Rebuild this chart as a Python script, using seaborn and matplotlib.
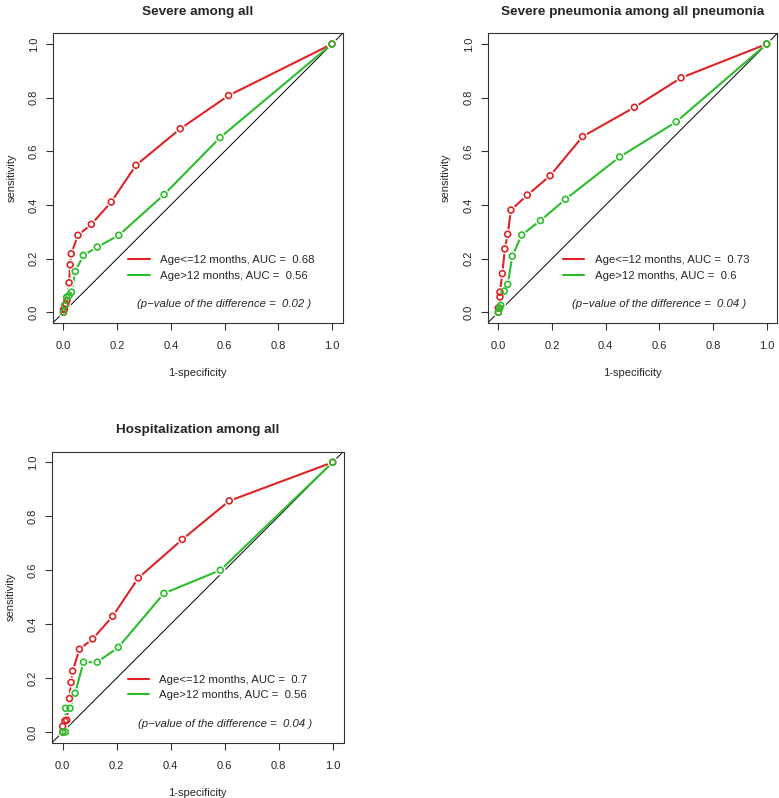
import numpy as np
import matplotlib
matplotlib.use("Agg")
import matplotlib.pyplot as plt
from matplotlib.lines import Line2D
import seaborn as sns

# ROC points (1-specificity, sensitivity)
sev_young_fpr = [0.0, 0.0, 0.004, 0.009, 0.013, 0.021, 0.025, 0.029, 0.054, 0.104, 0.178, 0.270, 0.435, 0.615, 1.0]
sev_young_tpr = [0.0, 0.010, 0.012, 0.030, 0.044, 0.110, 0.177, 0.218, 0.287, 0.328, 0.411, 0.548, 0.684, 0.808, 1.0]
sev_old_fpr = [0.0, 0.005, 0.012, 0.021, 0.030, 0.044, 0.074, 0.126, 0.206, 0.375, 0.583, 1.0]
sev_old_tpr = [0.0, 0.026, 0.056, 0.063, 0.075, 0.152, 0.212, 0.243, 0.287, 0.439, 0.651, 1.0]

pneu_young_fpr = [0.0, 0.0, 0.006, 0.006, 0.015, 0.024, 0.035, 0.047, 0.108, 0.193, 0.314, 0.507, 0.681, 1.0]
pneu_young_tpr = [0.0, 0.016, 0.057, 0.075, 0.144, 0.236, 0.291, 0.381, 0.437, 0.509, 0.655, 0.764, 0.874, 1.0]
pneu_old_fpr = [0.0, 0.005, 0.009, 0.022, 0.035, 0.052, 0.087, 0.157, 0.250, 0.452, 0.663, 1.0]
pneu_old_tpr = [0.0, 0.015, 0.026, 0.079, 0.104, 0.209, 0.288, 0.342, 0.421, 0.579, 0.710, 1.0]

hosp_young_fpr = [0.0, 0.0, 0.008, 0.015, 0.025, 0.031, 0.037, 0.062, 0.111, 0.185, 0.280, 0.443, 0.617, 1.0]
hosp_young_tpr = [0.0, 0.021, 0.041, 0.044, 0.124, 0.184, 0.226, 0.307, 0.345, 0.429, 0.571, 0.714, 0.857, 1.0]
hosp_old_fpr = [0.0, 0.010, 0.011, 0.027, 0.046, 0.077, 0.128, 0.206, 0.375, 0.584, 1.0]
hosp_old_tpr = [0.0, 0.0, 0.088, 0.088, 0.144, 0.259, 0.259, 0.314, 0.514, 0.600, 1.0]

titles = ["Severe among all", "Severe pneumonia among all pneumonia", "Hospitalization among all"]
auc_young = ["0.68", "0.73", "0.7"]
auc_old = ["0.56", "0.6", "0.56"]
p_values = ["0.02", "0.04", "0.04"]
ticks = [0.0, 0.2, 0.4, 0.6, 0.8, 1.0]
tick_labels = ["0.0", "0.2", "0.4", "0.6", "0.8", "1.0"]

RED = "#DD2424"
GREEN = "#2BBE2B"

sns.set_style("ticks")
plt.rcParams["font.family"] = ["Liberation Sans", "DejaVu Sans"]

fig = plt.figure(figsize=(7.79, 7.98), dpi=100)
W, H = 779, 798


def make_axes(left, top, right, bottom):
    return fig.add_axes([left / W, 1 - bottom / H, (right - left) / W, (bottom - top) / H])


panels = [
    (make_axes(52.7, 33.3, 342.7, 323.0), (sev_young_fpr, sev_young_tpr), (sev_old_fpr, sev_old_tpr)),
    (make_axes(487.6, 33.3, 777.4, 323.0), (pneu_young_fpr, pneu_young_tpr), (pneu_old_fpr, pneu_old_tpr)),
    (make_axes(51.9, 451.5, 343.5, 742.8), (hosp_young_fpr, hosp_young_tpr), (hosp_old_fpr, hosp_old_tpr)),
]


def roc_curve_b(ax, fpr, tpr, color):
    # R type="b": line broken around open circles
    sns.lineplot(x=fpr, y=tpr, sort=False, estimator=None, color=color, lw=1.5, ax=ax, zorder=2)
    sns.scatterplot(x=fpr, y=tpr, s=55, color="white", edgecolor="none", linewidth=0, ax=ax, zorder=3)
    sns.scatterplot(x=fpr, y=tpr, s=18, marker="o", color=color, linewidth=1.2, ax=ax, zorder=4)
    pts = ax.collections[-1]
    pts.set_facecolor("none")
    pts.set_edgecolor(color)


for i, (ax, young, old) in enumerate(panels):
    ax.axline((0, 0), slope=1, color="black", lw=0.7, zorder=1)
    roc_curve_b(ax, young[0], young[1], RED)
    roc_curve_b(ax, old[0], old[1], GREEN)

    ax.set_xlim(-0.04, 1.04)
    ax.set_ylim(-0.04, 1.04)
    ax.set_xticks(ticks)
    ax.set_xticklabels(tick_labels)
    ax.set_yticks(ticks)
    ax.set_yticklabels(tick_labels, rotation=90, va="center")
    ax.tick_params(length=5, width=0.8, labelsize=8, color="#333333")
    ax.tick_params(axis="x", pad=8)
    ax.tick_params(axis="y", pad=5)
    for sp in ax.spines.values():
        sp.set_visible(True)
        sp.set_linewidth(0.8)
        sp.set_color("#333333")

    ax.set_title(titles[i], fontsize=9.7, fontweight="bold", pad=13)
    ax.set_xlabel("1-specificity", fontsize=8, labelpad=12)
    ax.set_ylabel("sensitivity", fontsize=8, labelpad=9)

    handles = [Line2D([], [], color=RED, lw=1.5), Line2D([], [], color=GREEN, lw=1.5)]
    labels = [f"Age<=12 months, AUC =  {auc_young[i]}", f"Age>12 months, AUC =  {auc_old[i]}"]
    ax.legend(handles, labels, loc="center left", bbox_to_anchor=(0.24, 0.165),
              bbox_transform=ax.transData, frameon=False, fontsize=8.2,
              handlelength=1.9, handletextpad=0.9, labelspacing=0.45,
              borderpad=0, borderaxespad=0)
    ax.text(0.60, 0.03, f"(p\u2212value of the difference =  {p_values[i]} )",
            style="italic", ha="center", va="center", fontsize=8.2)

fig.savefig("out.png", dpi=100)
